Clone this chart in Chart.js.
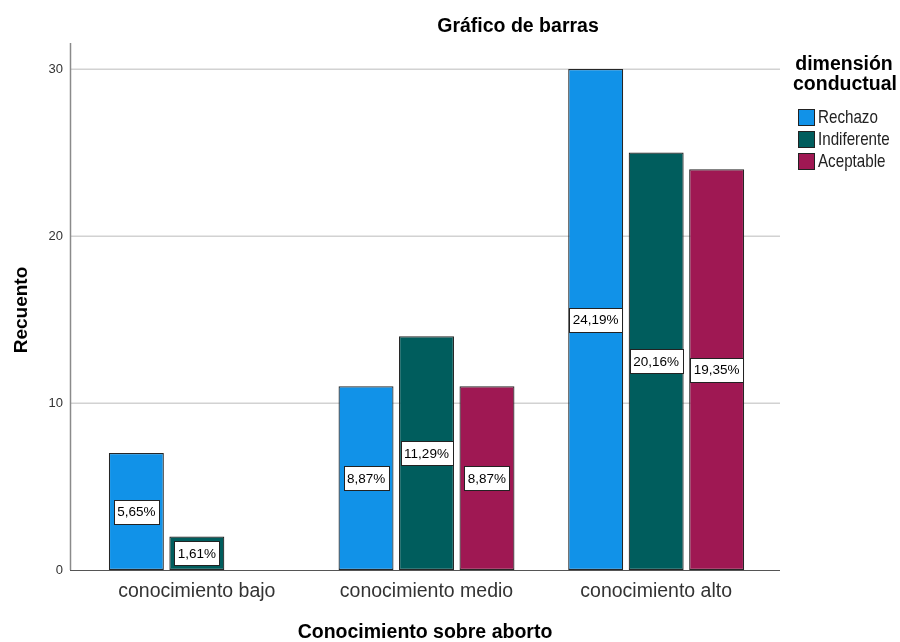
<!DOCTYPE html>
<html><head><meta charset="utf-8">
<script src="https://cdn.jsdelivr.net/npm/chart.js@4.4.1/dist/chart.umd.min.js"></script>
<style>html,body{margin:0;padding:0;background:#fff;overflow:hidden}#wrap{width:900px;height:642px;position:relative}</style>
</head><body><div id="wrap"><canvas id="c" width="900" height="642"></canvas></div>
<script>
const categories = ['conocimiento bajo', 'conocimiento medio', 'conocimiento alto'];
const seriesNames = ['Rechazo', 'Indiferente', 'Aceptable'];
const rechazo = [7, 11, 30];
const indiferente = [2, 14, 25];
const aceptable = [0, 11, 24];
const yTicks = [0, 10, 20, 30];
const seriesColors = ['#1192e8', '#005d5d', '#9f1853'];
const chartTitle = 'Gráfico de barras';
const xTitle = 'Conocimiento sobre aborto';
const yTitle = 'Recuento';
const legendTitle = ['dimensión', 'conductual'];

const FONT = '"Liberation Sans", Arial, sans-serif';
const seriesValues = [rechazo, indiferente, aceptable];
const total = seriesValues.flat().reduce((a, b) => a + b, 0);

const decor = {
  id: 'decor',
  beforeDatasetsDraw(chart) {
    const ctx = chart.ctx, y = chart.scales.y;
    ctx.save();
    ctx.strokeStyle = '#d2d2d2';
    ctx.lineWidth = 1.5;
    yTicks.forEach(v => {
      if (v === 0) return;
      const py = Math.round(y.getPixelForValue(v)) + 0.25;
      ctx.beginPath(); ctx.moveTo(71, py); ctx.lineTo(780, py); ctx.stroke();
    });
    ctx.restore();
  },
  afterDatasetsDraw(chart) {
    const ctx = chart.ctx, y = chart.scales.y;
    const y0 = y.getPixelForValue(0);
    ctx.save();
    ctx.strokeStyle = '#8a8a8a'; ctx.lineWidth = 1.5;
    ctx.beginPath(); ctx.moveTo(70.5, chart.chartArea.top); ctx.lineTo(70.5, y0); ctx.stroke();
    ctx.strokeStyle = '#555'; ctx.lineWidth = 1;
    ctx.beginPath(); ctx.moveTo(70, y0 + 0.5); ctx.lineTo(780, y0 + 0.5); ctx.stroke();
    ctx.font = '13.5px ' + FONT;
    ctx.textAlign = 'center'; ctx.textBaseline = 'middle';
    chart.data.datasets.forEach((ds, i) => {
      const meta = chart.getDatasetMeta(i);
      meta.data.forEach((el, j) => {
        const v = ds.data[j];
        if (!v) return;
        const txt = (v / total * 100).toFixed(2).replace('.', ',') + '%';
        const cy = (el.y + el.base) / 2;
        const w = Math.round(ctx.measureText(txt).width + 7), h = 24;
        const bx = Math.round(el.x - w / 2) + 0.5, by = Math.round(cy - h / 2) + 0.5;
        ctx.fillStyle = '#fff'; ctx.fillRect(bx, by, w, h);
        ctx.strokeStyle = '#222'; ctx.lineWidth = 1; ctx.strokeRect(bx, by, w, h);
        ctx.fillStyle = '#000'; ctx.fillText(txt, el.x, cy + 1);
      });
    });
    ctx.restore();
  },
  afterDraw(chart) {
    const ctx = chart.ctx;
    ctx.save();
    ctx.fillStyle = '#000';
    ctx.textAlign = 'center'; ctx.textBaseline = 'middle';
    ctx.font = 'bold 19.5px ' + FONT;
    ctx.fillText(chartTitle, 518, 27);
    ctx.font = 'bold 19.5px ' + FONT;
    ctx.fillText(xTitle, 425, 633);
    ctx.save();
    ctx.translate(22, 310); ctx.rotate(-Math.PI / 2);
    ctx.font = 'bold 19px ' + FONT;
    ctx.fillText(yTitle, 0, 0);
    ctx.restore();
    ctx.font = 'bold 19.5px ' + FONT;
    ctx.fillText(legendTitle[0], 844, 65);
    ctx.fillText(legendTitle[1], 845, 85);
    chart.data.datasets.forEach((ds, i) => {
      const cy = 117 + i * 22;
      ctx.fillStyle = ds.backgroundColor;
      ctx.fillRect(798.5, cy - 8 + 0.5, 16, 16);
      ctx.strokeStyle = '#222'; ctx.lineWidth = 1;
      ctx.strokeRect(798.5, cy - 8 + 0.5, 16, 16);
      ctx.save();
      ctx.translate(818, cy + 1); ctx.scale(0.82, 1);
      ctx.font = '18.5px ' + FONT;
      ctx.fillStyle = '#222'; ctx.textAlign = 'left';
      ctx.fillText(ds.label, 0, 0);
      ctx.restore();
    });
    ctx.restore();
  }
};

new Chart(document.getElementById('c'), {
  type: 'bar',
  data: {
    labels: categories,
    datasets: seriesNames.map((n, i) => ({
      label: n,
      data: seriesValues[i],
      backgroundColor: seriesColors[i],
      borderColor: '#262626',
      borderWidth: 1.2,
      borderSkipped: false,
      categoryPercentage: 0.79,
      barPercentage: 0.909
    }))
  },
  options: {
    responsive: false,
    animation: false,
    devicePixelRatio: 1,
    layout: { padding: { left: 0, right: 129, top: 43, bottom: 0 } },
    plugins: { legend: { display: false }, title: { display: false }, tooltip: { enabled: false } },
    scales: {
      x: {
        offset: true,
        grid: { display: false, drawTicks: false },
        border: { display: false },
        ticks: { color: '#333', font: { size: 19.5, family: FONT }, padding: 10, maxRotation: 0 },
        afterFit(s) { s.height = 72; }
      },
      y: {
        min: 0, max: 31.56,
        grid: { display: false, drawTicks: false },
        border: { display: false },
        ticks: { color: '#333', font: { size: 13, family: FONT }, padding: 19 },
        afterBuildTicks(s) { s.ticks = yTicks.map(v => ({ value: v })); },
        afterFit(s) { s.width = 82; }
      }
    }
  },
  plugins: [decor]
});
</script></body></html>
